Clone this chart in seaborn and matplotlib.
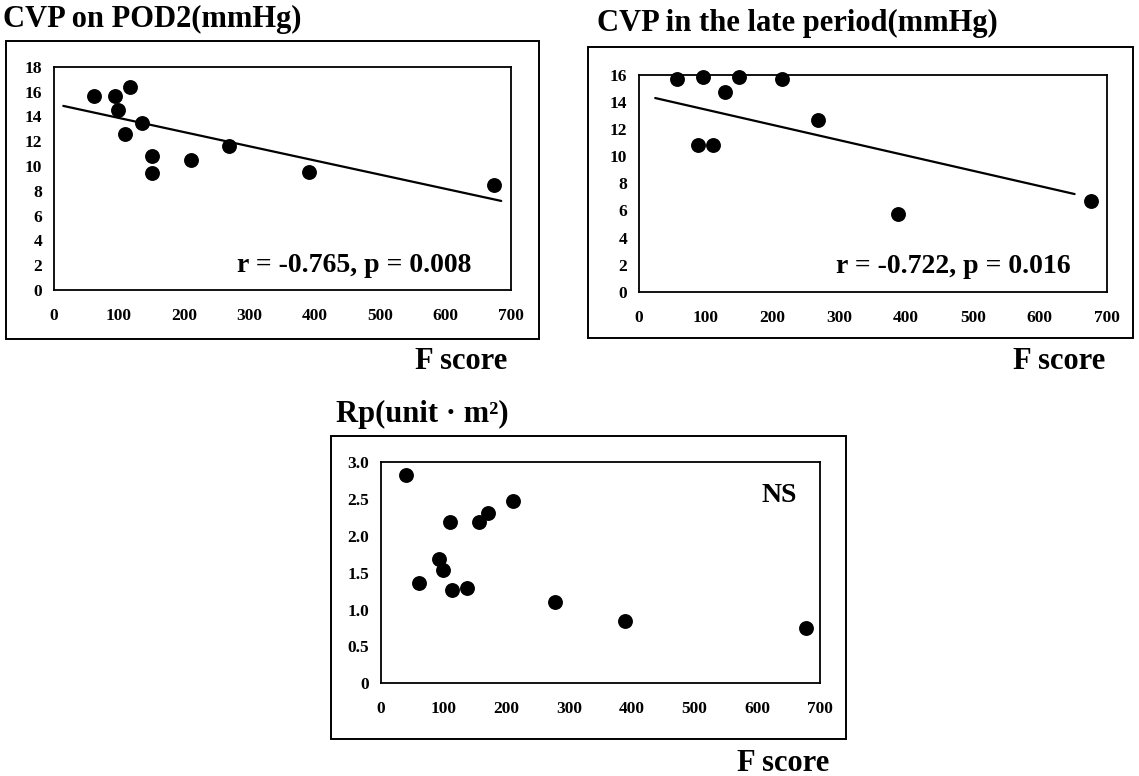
"""
Three scatter panels: CVP / Rp against F score (with trend lines).
Output: out.png (1139 x 776)
"""

import matplotlib
matplotlib.use("Agg")  # no display

import matplotlib.pyplot as plt
from matplotlib.patches import Rectangle
import pandas as pd
import seaborn as sns

# ─────────────────────────────────────────────────────────────────────────────
# DATA
# ─────────────────────────────────────────────────────────────────────────────

POD2_FSCORE = [62, 94, 117, 99, 135, 110, 151, 151, 210, 268, 391, 674]
POD2_CVP    = [15.65, 15.67, 16.4, 14.5, 13.5, 12.6, 10.8, 9.46, 10.5, 11.6, 9.55, 8.5]
POD2_TREND_X = [15, 685]
POD2_TREND_Y = [14.84, 7.18]
POD2_STATS   = "r = -0.765, p = 0.008"

LATE_FSCORE = [58, 97, 150, 214, 129, 89, 111, 268, 388, 677]
LATE_CVP    = [15.68, 15.83, 15.83, 15.68, 14.74, 10.83, 10.83, 12.65, 5.71, 6.7]
LATE_TREND_X = [25, 652]
LATE_TREND_Y = [14.30, 7.21]
LATE_STATS   = "r = -0.722, p = 0.016"

RP_FSCORE = [40.5, 60.7, 110.7, 93.7, 100, 113.9, 137.3, 157, 170.8, 210.7, 278.6, 389.7, 677.8]
RP_VALUE  = [2.82, 1.36, 2.18, 1.68, 1.53, 1.26, 1.29, 2.19, 2.31, 2.47, 1.10, 0.85, 0.75]
RP_STATS  = "NS"

X_TICKS       = [0, 100, 200, 300, 400, 500, 600, 700]
POD2_Y_TICKS  = [0, 2, 4, 6, 8, 10, 12, 14, 16, 18]
LATE_Y_TICKS  = [0, 2, 4, 6, 8, 10, 12, 14, 16]
RP_Y_TICKS    = [0, 0.5, 1.0, 1.5, 2.0, 2.5, 3.0]
RP_Y_LABELS   = ["0", "0.5", "1.0", "1.5", "2.0", "2.5", "3.0"]

TITLES = ["CVP on POD2(mmHg)", "CVP in the late period(mmHg)", "Rp(unit \u00b7 m\u00b2)"]
X_LABEL = "F score"

W, H = 1139, 776
SERIF = ["Liberation Serif", "DejaVu Serif"]


def px_box(l, t, r, b):
    """Pixel box (top-left origin) -> figure fraction [left, bottom, w, h]."""
    return [l / W, 1 - b / H, (r - l) / W, (b - t) / H]


def draw_panel(fig, box, frame, x, y, yticks, ylim, ylabels=None,
               trend=None, stats=None, stats_pos=(0.9, 0.08)):
    ax = fig.add_axes(px_box(*box))
    df = pd.DataFrame({"x": x, "y": y})
    sns.scatterplot(data=df, x="x", y="y", ax=ax, s=115, color="black",
                    edgecolor="black", linewidth=0, clip_on=False, zorder=5)
    if trend is not None:
        tdf = pd.DataFrame({"x": trend[0], "y": trend[1]})
        sns.lineplot(data=tdf, x="x", y="y", ax=ax, color="black",
                     linewidth=1.6, zorder=4)

    ax.set_xlim(0, 700)
    ax.set_ylim(*ylim)
    ax.set_xticks(X_TICKS)
    ax.set_yticks(yticks)
    if ylabels is not None:
        ax.set_yticklabels(ylabels)
    ax.set_xlabel("")
    ax.set_ylabel("")
    ax.tick_params(axis="x", direction="in", length=3, width=1, pad=13,
                   labelsize=12.5, colors="black")
    ax.tick_params(axis="y", direction="out", length=3, width=1, pad=5,
                   labelsize=12.5, colors="black")
    for lab in ax.get_xticklabels() + ax.get_yticklabels():
        lab.set_fontweight("bold")
        lab.set_family(SERIF)
    for sp in ax.spines.values():
        sp.set_visible(True)
        sp.set_color("black")
        sp.set_linewidth(1.3)

    if stats is not None:
        ax.text(stats_pos[0], stats_pos[1], stats, transform=ax.transAxes,
                ha="right", va="baseline", fontsize=20, fontweight="bold",
                family=SERIF, color="black")

    # outer box around the panel
    l, t, r, b = frame
    fig.patches.append(Rectangle((l / W, 1 - b / H), (r - l) / W, (b - t) / H,
                                 transform=fig.transFigure, fill=False,
                                 edgecolor="black", linewidth=1.4))
    return ax


def main():
    sns.set_theme(style="white")
    plt.rcParams["font.family"] = SERIF
    plt.rcParams["text.color"] = "black"

    fig = plt.figure(figsize=(W / 100, H / 100), dpi=100)

    draw_panel(fig, (53.5, 66.7, 511, 290), (6, 41, 539, 339),
               POD2_FSCORE, POD2_CVP, POD2_Y_TICKS, (0, 18),
               trend=(POD2_TREND_X, POD2_TREND_Y), stats=POD2_STATS,
               stats_pos=(0.913, 0.08))
    draw_panel(fig, (638.5, 75, 1106.7, 291.7), (588, 46.7, 1133, 338.3),
               LATE_FSCORE, LATE_CVP, LATE_Y_TICKS, (0, 16),
               trend=(LATE_TREND_X, LATE_TREND_Y), stats=LATE_STATS,
               stats_pos=(0.923, 0.085))
    draw_panel(fig, (380.6, 462, 820, 683.3), (331, 436, 846, 739),
               RP_FSCORE, RP_VALUE, RP_Y_TICKS, (0, 3.0), ylabels=RP_Y_LABELS,
               stats=RP_STATS, stats_pos=(0.947, 0.82))

    # panel titles (left, baseline in px)
    for (tx, ty), title in zip([(3, 27), (597, 31), (336, 422)], TITLES):
        fig.text(tx / W, 1 - ty / H, title, ha="left", va="baseline",
                 fontsize=22, fontweight="bold", color="black")
    # x axis captions
    for tx, ty in [(507, 369), (1105, 369), (829, 771)]:
        fig.text(tx / W, 1 - ty / H, X_LABEL, ha="right", va="baseline",
                 fontsize=22, fontweight="bold", color="black")

    fig.savefig("out.png", dpi=100, facecolor="white")
    plt.close(fig)


if __name__ == "__main__":
    main()
